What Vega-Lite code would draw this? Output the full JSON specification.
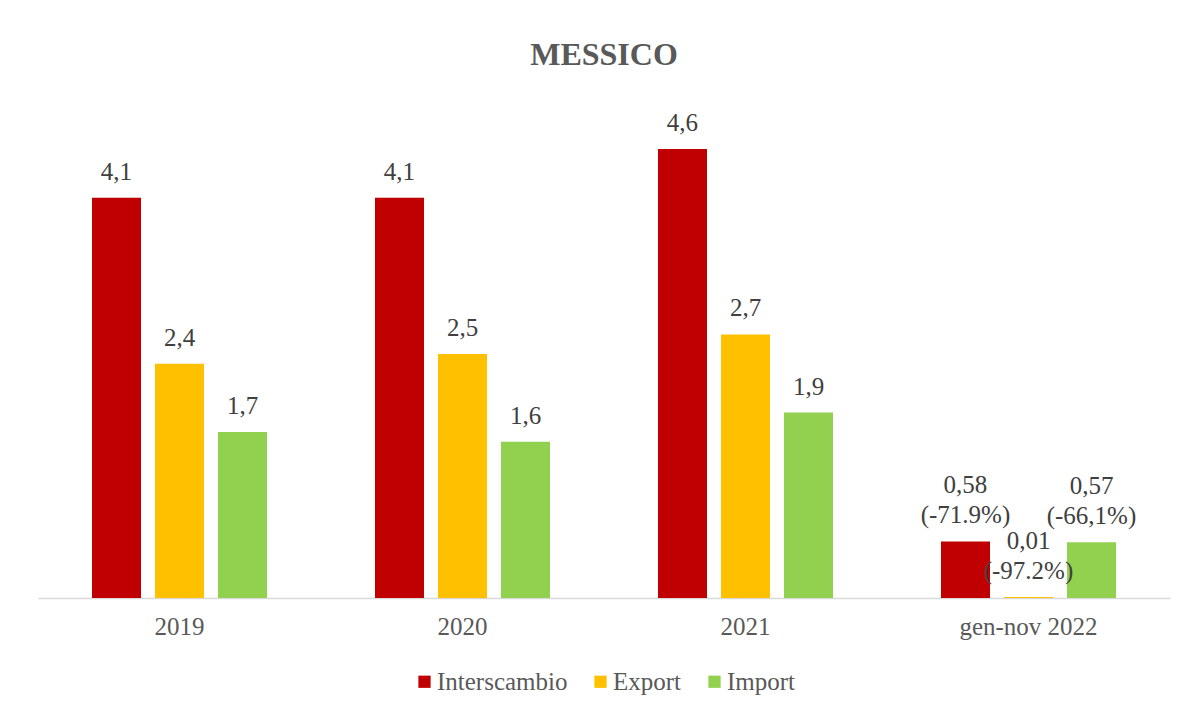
{
  "$schema": "https://vega.github.io/schema/vega-lite/v6.json",
  "width": 1132,
  "height": 488,
  "autosize": {"type": "none"},
  "padding": {"left": 38, "top": 110, "right": 15, "bottom": 112},
  "background": "white",
  "title": {
    "text": "MESSICO",
    "font": "Liberation Serif",
    "fontSize": 32,
    "fontWeight": "bold",
    "color": "#595959",
    "anchor": "middle",
    "offset": 38
  },
  "data": {
    "values": [
      {"period": "2019", "series": "Interscambio", "value": 4.1, "label": "4,1", "note": ""},
      {"period": "2019", "series": "Export", "value": 2.4, "label": "2,4", "note": ""},
      {"period": "2019", "series": "Import", "value": 1.7, "label": "1,7", "note": ""},
      {"period": "2020", "series": "Interscambio", "value": 4.1, "label": "4,1", "note": ""},
      {"period": "2020", "series": "Export", "value": 2.5, "label": "2,5", "note": ""},
      {"period": "2020", "series": "Import", "value": 1.6, "label": "1,6", "note": ""},
      {"period": "2021", "series": "Interscambio", "value": 4.6, "label": "4,6", "note": ""},
      {"period": "2021", "series": "Export", "value": 2.7, "label": "2,7", "note": ""},
      {"period": "2021", "series": "Import", "value": 1.9, "label": "1,9", "note": ""},
      {"period": "gen-nov 2022", "series": "Interscambio", "value": 0.58, "label": "0,58", "note": "(-71.9%)"},
      {"period": "gen-nov 2022", "series": "Export", "value": 0.01, "label": "0,01", "note": "(-97.2%)"},
      {"period": "gen-nov 2022", "series": "Import", "value": 0.57, "label": "0,57", "note": "(-66,1%)"}
    ]
  },
  "encoding": {
    "x": {
      "field": "period",
      "type": "nominal",
      "sort": ["2019", "2020", "2021", "gen-nov 2022"],
      "scale": {"paddingInner": 0, "paddingOuter": 0},
      "axis": {
        "title": null,
        "labelAngle": 0,
        "ticks": false,
        "domainColor": "#D9D9D9",
        "domainWidth": 1.5,
        "labelFont": "Liberation Serif",
        "labelFontSize": 25,
        "labelColor": "#595959",
        "labelPadding": 16
      }
    },
    "xOffset": {
      "field": "series",
      "type": "nominal",
      "sort": ["Interscambio", "Export", "Import"],
      "scale": {"paddingInner": 0.222, "paddingOuter": 0.857}
    },
    "y": {
      "field": "value",
      "type": "quantitative",
      "scale": {"domain": [0, 5], "nice": false},
      "axis": null
    }
  },
  "layer": [
    {
      "mark": {"type": "bar"},
      "encoding": {
        "color": {
          "field": "series",
          "type": "nominal",
          "sort": ["Interscambio", "Export", "Import"],
          "scale": {
            "domain": ["Interscambio", "Export", "Import"],
            "range": ["#C00000", "#FFC000", "#92D050"]
          },
          "legend": {
            "title": null,
            "orient": "none",
            "legendX": 374,
            "legendY": 559,
            "direction": "horizontal",
            "symbolType": "square",
            "symbolSize": 150,
            "symbolStrokeWidth": 0,
            "symbolOpacity": 1,
            "labelFont": "Liberation Serif",
            "labelFontSize": 25,
            "labelColor": "#595959",
            "labelOffset": 0,
            "columnPadding": 20
          }
        }
      }
    },
    {
      "transform": [{"filter": "datum.note == ''"}],
      "mark": {
        "type": "text",
        "baseline": "bottom",
        "dy": -13,
        "font": "Liberation Serif",
        "fontSize": 25,
        "color": "#404040"
      },
      "encoding": {
        "text": {"field": "label"}
      }
    },
    {
      "transform": [{"filter": "datum.note != ''"}],
      "mark": {
        "type": "text",
        "baseline": "bottom",
        "dy": -43,
        "font": "Liberation Serif",
        "fontSize": 25,
        "color": "#404040"
      },
      "encoding": {
        "text": {"field": "label"}
      }
    },
    {
      "transform": [{"filter": "datum.note != ''"}],
      "mark": {
        "type": "text",
        "baseline": "bottom",
        "dy": -13,
        "font": "Liberation Serif",
        "fontSize": 25,
        "color": "#404040"
      },
      "encoding": {
        "text": {"field": "note"}
      }
    }
  ],
  "config": {
    "view": {"stroke": null}
  }
}
